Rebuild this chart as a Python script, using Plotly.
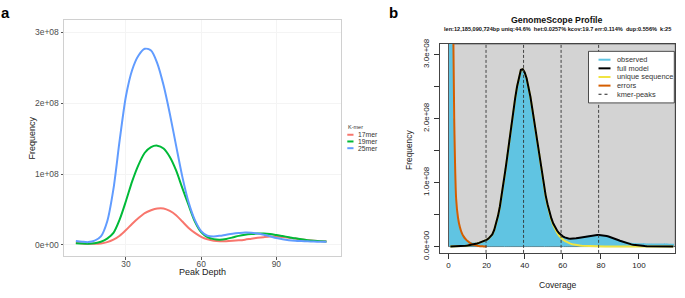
import plotly.graph_objects as go

W, H = 685, 298
FONT = "Liberation Sans, Arial, Helvetica, sans-serif"

# ---------------- Panel a data (Frequency in units of 1e8) ----------------
depth = [10, 12.5, 15, 17.5, 20, 22.5, 25, 27.5, 30, 32.5, 35, 37.5, 40, 42.5, 45,
         47.5, 50, 52.5, 55, 57.5, 60, 62.5, 65, 67.5, 70, 72.5, 75, 77.5, 80, 82.5,
         85, 87.5, 90, 92.5, 95, 97.5, 100, 102.5, 105, 107.5, 110]
freq_17 = [0.030, 0.022, 0.018, 0.016, 0.022, 0.040, 0.075, 0.130, 0.210, 0.300, 0.380,
           0.450, 0.490, 0.515, 0.515, 0.480, 0.420, 0.330, 0.240, 0.170, 0.115, 0.080,
           0.060, 0.052, 0.053, 0.058, 0.065, 0.075, 0.088, 0.100, 0.110, 0.118, 0.118,
           0.113, 0.103, 0.090, 0.078, 0.068, 0.060, 0.054, 0.050]
freq_19 = [0.025, 0.020, 0.018, 0.025, 0.045, 0.090, 0.170, 0.360, 0.620, 0.900, 1.130,
           1.300, 1.380, 1.400, 1.360, 1.240, 1.050, 0.800, 0.560, 0.330, 0.180, 0.110,
           0.082, 0.075, 0.085, 0.105, 0.128, 0.145, 0.155, 0.160, 0.160, 0.153, 0.140,
           0.125, 0.110, 0.094, 0.080, 0.068, 0.060, 0.054, 0.050]
freq_25 = [0.055, 0.045, 0.040, 0.060, 0.120, 0.330, 0.790, 1.480, 2.100, 2.470, 2.670,
           2.765, 2.740, 2.560, 2.250, 1.850, 1.400, 0.960, 0.600, 0.350, 0.195, 0.130,
           0.120, 0.130, 0.145, 0.157, 0.167, 0.175, 0.173, 0.163, 0.145, 0.122, 0.097,
           0.080, 0.068, 0.060, 0.055, 0.051, 0.048, 0.046, 0.045]
kmer_names = ["17mer", "19mer", "25mer"]
kmer_colors = ["#F8766D", "#00BA38", "#619CFF"]
a_yticks = [0, 1, 2, 3]
a_yticktext = ["0e+00", "1e+08", "2e+08", "3e+08"]
a_xticks = [30, 60, 90]

# ---------------- Panel b data (Frequency in units of 1e8) ----------------
coverage = list(range(1, 119))
observed = [9.000, 5.000, 2.000, 0.752, 0.452, 0.303, 0.215, 0.163, 0.126, 0.100,
            0.082, 0.071, 0.065, 0.062, 0.063, 0.066, 0.072, 0.081, 0.091, 0.105,
            0.126, 0.152, 0.192, 0.262, 0.362, 0.482, 0.632, 0.812, 1.012, 1.222,
            1.442, 1.672, 1.902, 2.122, 2.322, 2.502, 2.662, 2.762, 2.772, 2.722,
            2.632, 2.502, 2.342, 2.152, 1.952, 1.742, 1.532, 1.332, 1.142, 0.962,
            0.802, 0.662, 0.542, 0.442, 0.362, 0.302, 0.252, 0.212, 0.182, 0.162,
            0.145, 0.134, 0.128, 0.125, 0.125, 0.127, 0.132, 0.137, 0.142, 0.149,
            0.155, 0.161, 0.167, 0.172, 0.176, 0.179, 0.181, 0.182, 0.182, 0.181,
            0.178, 0.173, 0.167, 0.159, 0.150, 0.140, 0.130, 0.119, 0.108, 0.098,
            0.089, 0.081, 0.074, 0.068, 0.063, 0.059, 0.056, 0.054, 0.053, 0.052,
            0.051, 0.050, 0.050, 0.049, 0.049, 0.048, 0.048, 0.048, 0.047, 0.047,
            0.047, 0.046, 0.046, 0.046, 0.046, 0.045, 0.045, 0.045]
full_model = [0.000, 0.000, 0.000, 0.001, 0.002, 0.003, 0.005, 0.008, 0.011, 0.015,
              0.020, 0.026, 0.033, 0.040, 0.048, 0.057, 0.067, 0.078, 0.090, 0.105,
              0.125, 0.150, 0.190, 0.260, 0.360, 0.480, 0.630, 0.810, 1.010, 1.220,
              1.440, 1.670, 1.900, 2.120, 2.320, 2.500, 2.660, 2.760, 2.770, 2.720,
              2.630, 2.500, 2.340, 2.150, 1.950, 1.740, 1.530, 1.330, 1.140, 0.960,
              0.800, 0.660, 0.540, 0.440, 0.360, 0.300, 0.250, 0.210, 0.180, 0.160,
              0.143, 0.132, 0.126, 0.123, 0.123, 0.125, 0.130, 0.135, 0.140, 0.147,
              0.153, 0.159, 0.165, 0.170, 0.174, 0.177, 0.179, 0.180, 0.180, 0.179,
              0.176, 0.171, 0.165, 0.157, 0.148, 0.137, 0.126, 0.114, 0.102, 0.090,
              0.079, 0.068, 0.058, 0.049, 0.041, 0.034, 0.028, 0.023, 0.018, 0.014,
              0.011, 0.009, 0.007, 0.005, 0.004, 0.003, 0.002, 0.002, 0.001, 0.001,
              0.000, 0.000, 0.000, 0.000, 0.000, 0.000, 0.000, 0.000]
unique_seq = [0.000, 0.000, 0.000, 0.001, 0.002, 0.003, 0.005, 0.008, 0.011, 0.015,
              0.020, 0.026, 0.033, 0.040, 0.048, 0.057, 0.067, 0.078, 0.090, 0.104,
              0.123, 0.148, 0.188, 0.257, 0.356, 0.476, 0.626, 0.806, 1.006, 1.216,
              1.436, 1.666, 1.896, 2.116, 2.316, 2.496, 2.656, 2.756, 2.766, 2.716,
              2.626, 2.496, 2.336, 2.146, 1.946, 1.736, 1.524, 1.322, 1.130, 0.948,
              0.786, 0.643, 0.521, 0.418, 0.335, 0.270, 0.215, 0.172, 0.138, 0.110,
              0.088, 0.070, 0.056, 0.045, 0.037, 0.030, 0.025, 0.020, 0.017, 0.014,
              0.012, 0.010, 0.008, 0.007, 0.006, 0.005, 0.004, 0.004, 0.003, 0.003,
              0.002, 0.002, 0.002, 0.002, 0.001, 0.001, 0.001, 0.001, 0.001, 0.001,
              0.001, 0.001, 0.001, 0.001, 0.001, 0.001, 0.001, 0.001, 0.001, 0.001,
              0.000, 0.000, 0.000, 0.000, 0.000, 0.000, 0.000, 0.000, 0.000, 0.000,
              0.000, 0.000, 0.000, 0.000, 0.000, 0.000, 0.000, 0.000]
err_coverage = [1, 2, 3, 4, 5, 6, 7, 8, 9, 10, 11, 12, 13, 14, 15, 16, 17, 18, 19, 20]
errors = [9.000, 5.000, 2.000, 0.750, 0.450, 0.300, 0.210, 0.155, 0.115, 0.085,
          0.062, 0.045, 0.032, 0.022, 0.015, 0.009, 0.005, 0.003, 0.001, 0.000]
kmer_peaks = [19.7, 39.4, 59.1, 78.8]
b_xticks = [0, 20, 40, 60, 80, 100]
b_yticks = [0, 0.5, 1, 1.5, 2, 2.5, 3]
b_yticktext = ["0.0e+00", "", "1.0e+08", "", "2.0e+08", "", "3.0e+08"]
b_legend = ["observed", "full model", "unique sequence", "errors", "kmer-peaks"]
subtitle = ("len:12,185,090,724bp uniq:44.6%  het:0.0257% kcov:19.7 err:0.114%  "
            "dup:0.556%  k:25")

C_OBS = "#60C4E2"
C_FULL = "#000000"
C_UNIQ = "#F0E442"
C_ERR = "#D55E00"
C_BG = "#D3D3D3"


def PX(x):
    return x / W


def PY(y):
    return 1 - y / H


fig = go.Figure()

# panel a curves
for name, color, vals in zip(kmer_names, kmer_colors, [freq_17, freq_19, freq_25]):
    fig.add_trace(go.Scatter(x=depth, y=vals, mode="lines", name=name,
                             line=dict(color=color, width=2, shape="spline", smoothing=0.8),
                             xaxis="x", yaxis="y", showlegend=False, hoverinfo="skip"))

# panel b
fig.add_trace(go.Bar(x=coverage, y=observed, width=0.75, name="observed",
                     marker=dict(color=C_OBS, line=dict(width=0)),
                     xaxis="x2", yaxis="y2", showlegend=False, hoverinfo="skip"))
fig.add_trace(go.Scatter(x=coverage, y=unique_seq, mode="lines", name="unique sequence",
                         line=dict(color=C_UNIQ, width=2), xaxis="x2", yaxis="y2",
                         showlegend=False, hoverinfo="skip"))
fig.add_trace(go.Scatter(x=err_coverage, y=errors, mode="lines", name="errors",
                         line=dict(color=C_ERR, width=2, shape="spline", smoothing=0.6),
                         xaxis="x2", yaxis="y2", showlegend=False, hoverinfo="skip"))
fig.add_trace(go.Scatter(x=coverage, y=full_model, mode="lines", name="full model",
                         line=dict(color=C_FULL, width=2), xaxis="x2", yaxis="y2",
                         showlegend=False, hoverinfo="skip"))

shapes = []
# gray background of GenomeScope panel
shapes.append(dict(type="rect", xref="x2", yref="y2", x0=0, x1=119.06, y0=0, y1=3.166,
                   fillcolor=C_BG, line=dict(color="#333333", width=0.8), layer="below"))
for p in kmer_peaks:
    shapes.append(dict(type="line", xref="x2", yref="y2 domain", x0=p, x1=p, y0=0, y1=1,
                       line=dict(color="#333333", width=0.9, dash="3px,2px")))

# legend b (manual)
shapes.append(dict(type="rect", xref="paper", yref="paper", x0=PX(588.5), x1=PX(674.3),
                   y0=PY(102), y1=PY(48.3), fillcolor="white",
                   line=dict(color="#222222", width=0.8)))
key_colors = [C_OBS, C_FULL, C_UNIQ, C_ERR, "#222222"]
key_y = [57, 66, 75, 84, 93]
annotations = []
for lab, col, yy in zip(b_legend, key_colors, key_y):
    dash = "3px,3px" if lab == "kmer-peaks" else "solid"
    wid = 1 if lab == "kmer-peaks" else 2
    shapes.append(dict(type="line", xref="paper", yref="paper", x0=PX(598.5), x1=PX(610.5),
                       y0=PY(yy), y1=PY(yy), line=dict(color=col, width=wid, dash=dash)))
    annotations.append(dict(text=lab, xref="paper", yref="paper", x=PX(614.5), y=PY(yy),
                            xanchor="left", yanchor="middle", showarrow=False,
                            font=dict(size=7.4, color="#333333", family=FONT)))

# legend a (manual)
annotations.append(dict(text="K-mer", xref="paper", yref="paper", x=PX(346.5), y=PY(127),
                        xanchor="left", yanchor="middle", showarrow=False,
                        font=dict(size=5.5, color="#333333", family=FONT)))
for lab, col, yy in zip(kmer_names, kmer_colors, [135.2, 142.2, 149.2]):
    shapes.append(dict(type="line", xref="paper", yref="paper", x0=PX(347.3), x1=PX(353.5),
                       y0=PY(yy), y1=PY(yy), line=dict(color=col, width=2)))
    annotations.append(dict(text=lab, xref="paper", yref="paper", x=PX(355.5), y=PY(yy),
                            xanchor="left", yanchor="middle", showarrow=False,
                            font=dict(size=6.8, color="#333333", family=FONT)))

# texts
def ann(text, x, y, size, color="#222222", angle=0, xanchor="center"):
    annotations.append(dict(text=text, xref="paper", yref="paper", x=PX(x), y=PY(y),
                            xanchor=xanchor, yanchor="middle", showarrow=False, textangle=angle,
                            borderpad=0, font=dict(size=size, color=color, family=FONT)))

ann("<b>a</b>", 0, 8, 15, "#000000", xanchor="left")
ann("<b>b</b>", 388, 8, 15, "#000000", xanchor="left")
ann("Frequency", 32.3, 138.7, 9, "#222222", -90)
ann("Peak Depth", 202.5, 278.5, 9, "#222222")
ann("<b>GenomeScope Profile</b>", 557, 16, 8.8, "#111111")
ann("<b>" + subtitle + "</b>", 557, 24.5, 5.6, "#111111")
ann("Frequency", 409, 151, 8.4, "#222222", -90)
ann("Coverage", 557, 291.7, 8.6, "#222222")

fig.update_layout(
    width=W, height=H, autosize=False,
    margin=dict(l=0, r=0, t=0, b=0),
    paper_bgcolor="white", plot_bgcolor="white",
    font=dict(family=FONT, size=8.5, color="#333333"),
    showlegend=False,
    shapes=shapes, annotations=annotations,
    xaxis=dict(domain=[PX(64), PX(341)], range=[5.27, 115.8], anchor="y",
               tickvals=a_xticks, ticks="outside", ticklen=2.5, tickcolor="#555555",
               tickfont=dict(size=8.4, color="#4D4D4D"), ticklabelstandoff=-3,
               showgrid=True, gridcolor="#F4F4F4", gridwidth=1, zeroline=False,
               showline=True, mirror=True, linecolor="#D0D0D0", linewidth=1),
    yaxis=dict(domain=[PY(262), PY(16)], range=[-0.162, 3.166], anchor="x",
               tickvals=a_yticks, ticktext=a_yticktext, ticks="outside", ticklen=2.5,
               tickcolor="#555555", tickfont=dict(size=8.5, color="#4D4D4D"),
               showgrid=True, gridcolor="#F4F4F4", gridwidth=1, zeroline=False,
               showline=True, mirror=True, linecolor="#D0D0D0", linewidth=1),
    xaxis2=dict(domain=[PX(440), PX(675.3)], range=[-4.46, 119.06], anchor="y2",
                tickvals=b_xticks, ticks="outside", ticklen=5, tickcolor="#333333",
                tickfont=dict(size=8, color="#222222"),
                showgrid=False, zeroline=False,
                showline=True, mirror=True, linecolor="#444444", linewidth=1),
    yaxis2=dict(domain=[PY(258.3), PY(40.5)], range=[-0.099, 3.166], anchor="x2",
                tickvals=b_yticks, ticktext=b_yticktext, tickangle=-90,
                ticks="outside", ticklen=5, tickcolor="#333333",
                tickfont=dict(size=8, color="#222222"), ticklabelstandoff=2,
                showgrid=False, zeroline=False,
                showline=True, mirror=True, linecolor="#444444", linewidth=1),
)

fig.write_html(
    "out.html",
    config={"displayModeBar": False},
    post_script=("document.body.style.margin='0px';document.body.style.padding='0px';"
                 "document.documentElement.style.overflow='hidden';"),
)
